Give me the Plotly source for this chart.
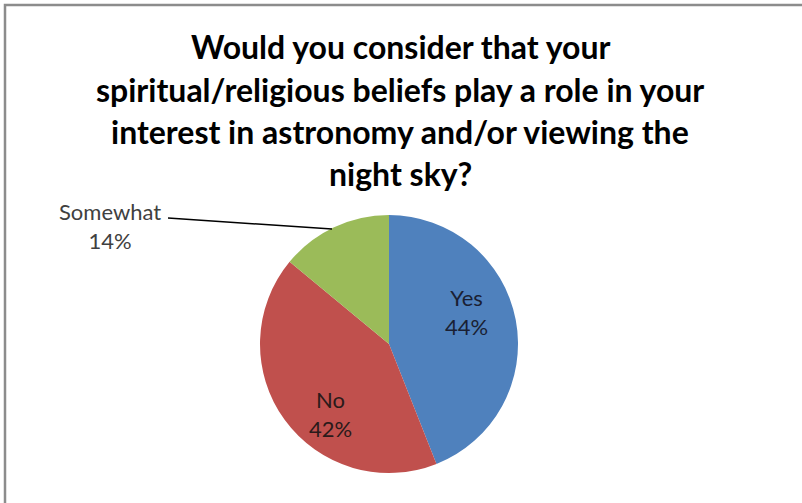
import plotly.graph_objects as go

# Survey answers and shares (%)
labels = ["Yes", "No", "Somewhat"]
values = [44, 42, 14]
colors = ["#4F81BD", "#C0504D", "#9BBB59"]

title_lines = [
    "Would you consider that your",
    "spiritual/religious beliefs play a role in your",
    "interest in astronomy and/or viewing the",
    "night sky?",
]

W, H = 802, 503
cx, cy, r = 389, 344, 129  # pie centre and radius in pixels

# label anchor points (pixels) for each slice
label_pos = [(466, 312), (330, 414), (110, 226)]
label_colors = ["#1a1f33", "#2a1a1a", "#404040"]


def px(x):
    return x / W


def py(y):
    return 1 - y / H


total = sum(values)
texts = [f"{l}<br>{round(v / total * 100)}%" for l, v in zip(labels, values)]

fig = go.Figure(
    go.Pie(
        labels=labels,
        values=values,
        sort=False,
        direction="clockwise",
        rotation=0,
        marker=dict(colors=colors, line=dict(width=0)),
        textinfo="none",
        showlegend=False,
        hoverinfo="label+percent",
        domain=dict(x=[px(cx - r), px(cx + r)], y=[py(cy + r), py(cy - r)]),
    )
)

annotations = []
for i, line in enumerate(title_lines):
    annotations.append(
        dict(
            text=f"<b>{line}</b>",
            x=px(400),
            y=py(47 + i * 42),
            xref="paper",
            yref="paper",
            xanchor="center",
            yanchor="middle",
            showarrow=False,
            font=dict(family="Lato", size=32, color="#000000"),
        )
    )

for t, (lx, ly), c in zip(texts, label_pos, label_colors):
    annotations.append(
        dict(
            text=t,
            x=px(lx),
            y=py(ly),
            xref="paper",
            yref="paper",
            xanchor="center",
            yanchor="middle",
            showarrow=False,
            font=dict(family="Lato", size=22, color=c),
        )
    )

shapes = [
    # leader line from the "Somewhat" label to the slice edge
    dict(
        type="line",
        xref="paper",
        yref="paper",
        x0=px(168),
        y0=py(218),
        x1=px(332),
        y1=py(229),
        line=dict(color="#000000", width=1.5),
    ),
    # chart frame
    dict(
        type="rect",
        xref="paper",
        yref="paper",
        x0=px(5),
        y0=-0.05,
        x1=1.05,
        y1=py(5),
        line=dict(color="#8c8c8c", width=2.5),
        fillcolor="rgba(0,0,0,0)",
    ),
]

fig.update_layout(
    width=W,
    height=H,
    margin=dict(l=0, r=0, t=0, b=0),
    paper_bgcolor="white",
    plot_bgcolor="white",
    annotations=annotations,
    shapes=shapes,
)

fig.write_html("out.html", config={"displayModeBar": False})
